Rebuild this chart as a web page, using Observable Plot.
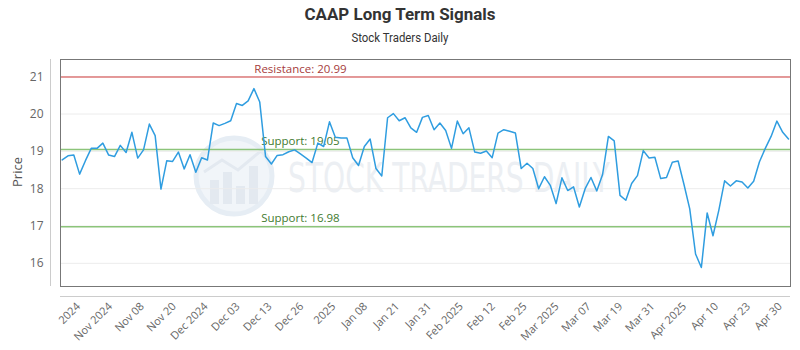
<!DOCTYPE html>
<html><head><meta charset="utf-8">
<script src="https://cdn.jsdelivr.net/npm/d3@7"></script>
<script src="https://cdn.jsdelivr.net/npm/@observablehq/plot@0.6"></script>
<style>
body{margin:0;background:#fff;font-family:"Open Sans",sans-serif;}
#wrap{position:relative;width:800px;height:350px;overflow:hidden;}
#ylabel{position:absolute;left:17px;top:172px;transform:translate(-50%,-50%) rotate(-90deg);font-size:13px;color:#555;white-space:nowrap;}
#wm{position:absolute;left:0;top:0;}
#titles{position:absolute;left:0;top:0;}
#chart{position:absolute;left:0;top:0;}
#chart svg{background:transparent;}
</style>
</head><body>
<div id="wrap">
  <svg id="wm" width="800" height="350">
    <circle cx="234" cy="176" r="38" fill="#f1f5f9" stroke="#e6edf4" stroke-width="5"/>
    <rect x="210" y="180" width="9" height="24" fill="#e3e9f0"/>
    <rect x="223" y="172" width="9" height="32" fill="#e3e9f0"/>
    <rect x="236" y="186" width="9" height="18" fill="#e3e9f0"/>
    <rect x="249" y="166" width="9" height="38" fill="#e3e9f0"/>
    <polyline points="204,172 222,160 238,170 262,150" fill="none" stroke="#e3e9f0" stroke-width="3"/>
    <text x="288" y="192" textLength="322" lengthAdjust="spacingAndGlyphs" font-family="Liberation Sans Narrow, DejaVu Sans Condensed, sans-serif" font-size="40" fill="#eceff3">STOCK TRADERS DAILY</text>
  </svg>
  <div id="chart"></div>
  <svg id="titles" width="800" height="50">
    <text x="400" y="19.5" text-anchor="middle" textLength="191" lengthAdjust="spacingAndGlyphs" font-family="Roboto, sans-serif" font-weight="bold" font-size="17" fill="#333">CAAP Long Term Signals</text>
    <text x="400" y="42" text-anchor="middle" textLength="97" lengthAdjust="spacingAndGlyphs" font-family="Roboto, sans-serif" font-size="12.5" fill="#333">Stock Traders Daily</text>
  </svg>
  <div id="ylabel">Price</div>
</div>
<script>
const prices = [
18.77,18.88,18.90,18.39,18.75,19.08,19.08,19.22,18.90,18.86,
19.16,18.97,19.51,18.82,19.04,19.73,19.42,17.99,18.75,18.73,
18.98,18.53,18.91,18.44,18.83,18.77,19.76,19.69,19.75,19.82,
20.28,20.23,20.35,20.68,20.32,18.86,18.66,18.89,18.91,18.99,
19.04,18.93,18.82,18.70,19.22,19.13,19.79,19.38,19.36,19.36,
18.83,18.62,19.13,19.33,18.54,18.34,19.90,20.01,19.82,19.90,
19.63,19.51,19.91,19.96,19.58,19.76,19.56,19.08,19.81,19.47,
19.63,18.98,18.95,19.01,18.83,19.49,19.58,19.54,19.49,18.54,
18.68,18.54,18.00,18.32,18.09,17.60,18.29,17.95,18.05,17.51,
18.00,18.30,17.94,18.38,19.40,19.28,17.82,17.69,18.14,18.35,
19.02,18.82,18.84,18.27,18.30,18.71,18.74,18.12,17.46,16.25,
15.89,17.35,16.74,17.42,18.21,18.07,18.21,18.18,18.02,18.20,
18.72,19.08,19.40,19.81,19.51,19.33
];
const tickLabels = ["2024","Nov 2024","Nov 08","Nov 20","Dec 2024","Dec 03","Dec 13","Dec 26","2025","Jan 08","Jan 21","Jan 31","Feb 2025","Feb 12","Feb 25","Mar 2025","Mar 07","Mar 19","Mar 31","Apr 2025","Apr 10","Apr 23","Apr 30"];
const yTicks = [16,17,18,19,20,21];
const resistance = [20.99];
const supports = [19.05, 16.98];

const data = prices.map((v, i) => ({i, v}));
const N = prices.length;
const tickPos = tickLabels.map((_, j) => 2.8 + 5.49 * j);
const labelMap = new Map(tickPos.map((p, j) => [p, tickLabels[j]]));
const xDom = [-0.29, N - 1 + 0.34];
const yDom = [15.38, 21.46];
const labelIdx = 41;

const chart = Plot.plot({
  width: 800, height: 350,
  marginTop: 59, marginBottom: 64, marginLeft: 60, marginRight: 10,
  style: {fontFamily: "'Open Sans', sans-serif", color: "#666", background: "transparent"},
  x: {domain: xDom},
  y: {domain: yDom},
  marks: [
    Plot.gridY(yTicks, {stroke: "#ececec", strokeOpacity: 1}),
    Plot.ruleY(resistance, {stroke: "#de7a7a", strokeWidth: 1.5}),
    Plot.ruleY(supports, {stroke: "#8cc47a", strokeWidth: 1.5}),
    Plot.text(resistance, {x: () => labelIdx, y: d => d, text: d => `Resistance: ${d.toFixed(2)}`, dy: -8, fill: "#a63c3c", fontSize: 11.5, textAnchor: "middle"}),
    Plot.text(supports, {x: () => labelIdx, y: d => d, text: d => `Support: ${d.toFixed(2)}`, dy: -8, fill: "#3f7a30", fontSize: 11.5, textAnchor: "middle"}),
    Plot.line(data, {x: "i", y: "v", stroke: "#2f9de0", strokeWidth: 1.5}),
    Plot.frame({stroke: "#777"}),
    Plot.axisY(yTicks, {tickSize: 0, tickPadding: 17, fontSize: 12, label: null}),
    Plot.axisX(tickPos, {tickFormat: d => labelMap.get(d), tickRotate: -45, tickSize: 0, tickPadding: 18, fontSize: 11, label: null}),
    Plot.ruleX([xDom[0]], {dx: -10, stroke: "#ccc"}),
    Plot.ruleY([yDom[0]], {dy: 10, stroke: "#ccc"})
  ]
});
document.getElementById("chart").appendChild(chart);
</script>
</body></html>
